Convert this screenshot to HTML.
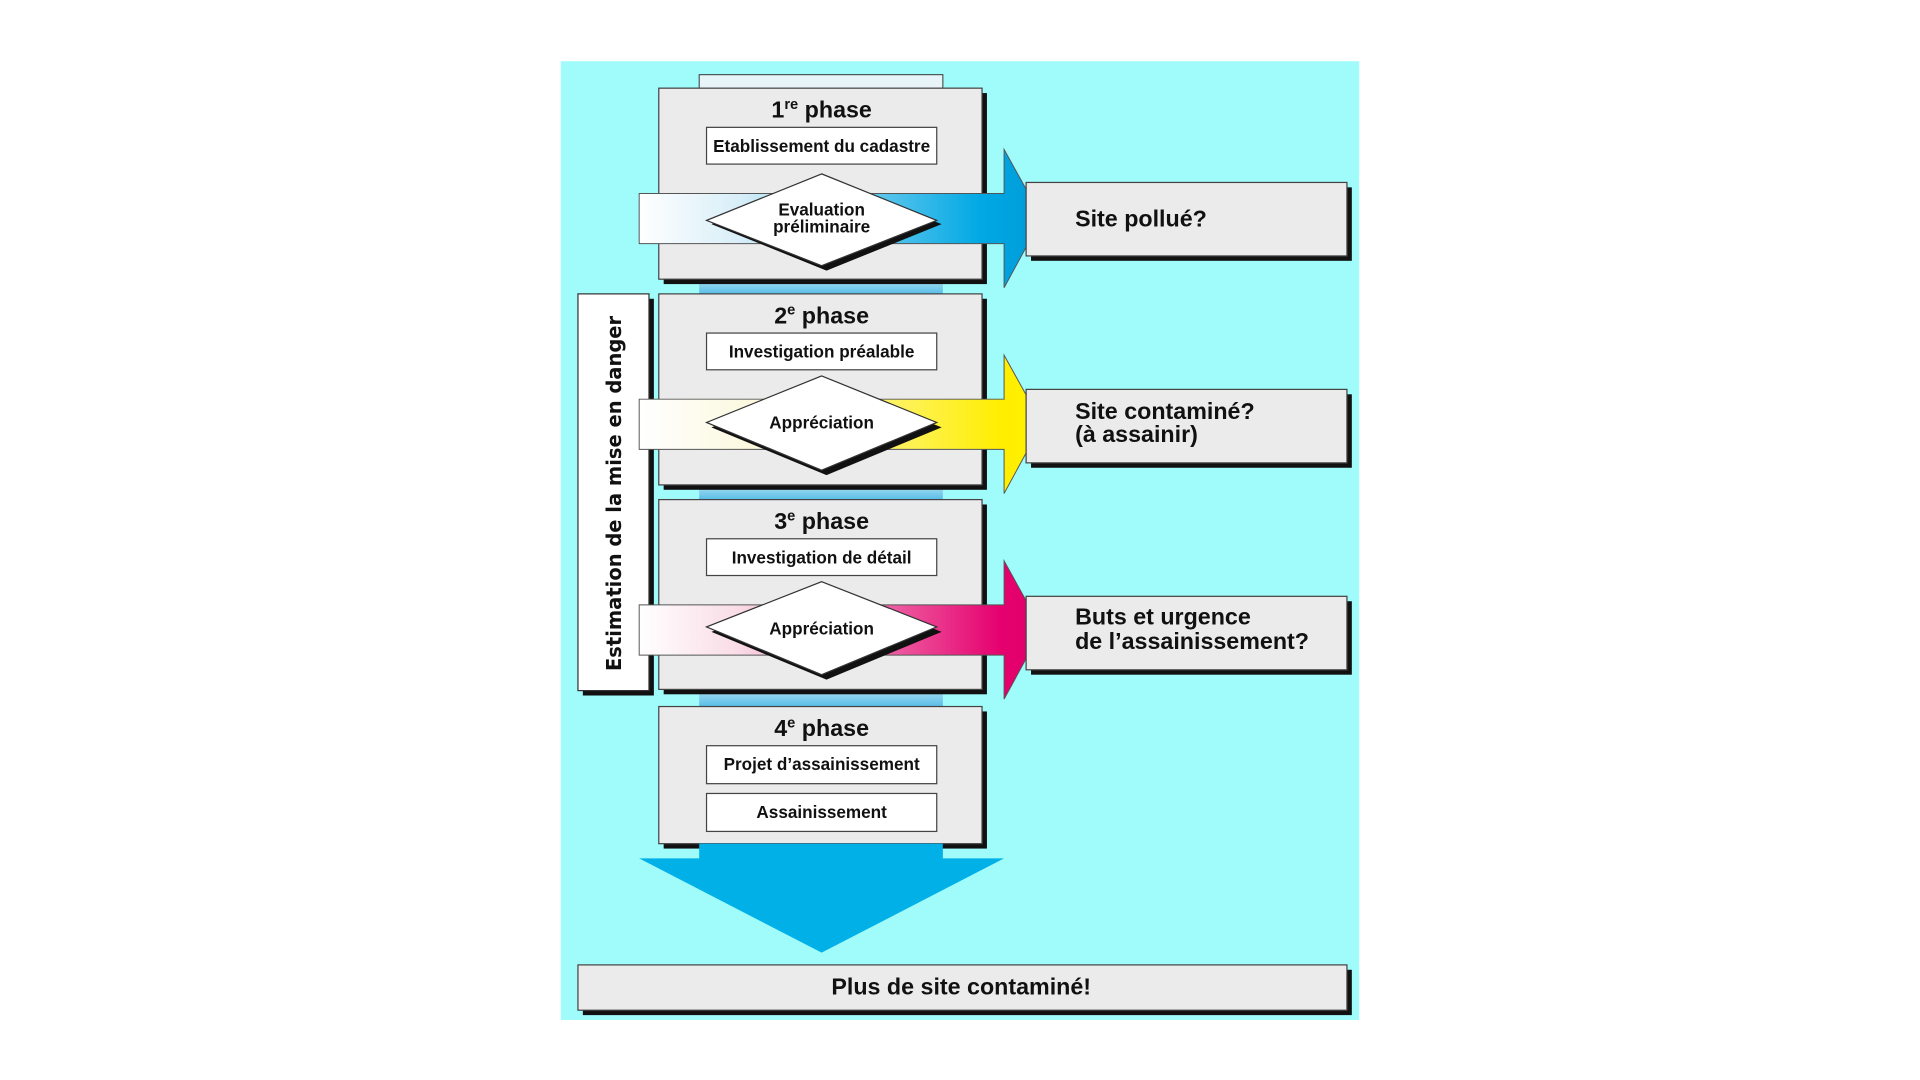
<!DOCTYPE html>
<html><head><meta charset="utf-8"><style>html,body{margin:0;padding:0;background:#fff;}svg{display:block}</style></head>
<body>
<svg width="1920" height="1080" viewBox="0 0 1568 882" xmlns="http://www.w3.org/2000/svg" font-family="'Liberation Sans Narrow','Liberation Sans',sans-serif" font-weight="bold">
<defs>
<linearGradient id="gb" x1="0" x2="1"><stop offset="0" stop-color="#ffffff"/><stop offset="0.25" stop-color="#d8eef8"/><stop offset="0.85" stop-color="#00a8e4"/><stop offset="1" stop-color="#009bd8"/></linearGradient>
<linearGradient id="gy" x1="0" x2="1"><stop offset="0" stop-color="#ffffff"/><stop offset="0.3" stop-color="#fbf8dc"/><stop offset="0.9" stop-color="#ffee00"/><stop offset="1" stop-color="#fff000"/></linearGradient>
<linearGradient id="gm" x1="0" x2="1"><stop offset="0" stop-color="#ffffff"/><stop offset="0.25" stop-color="#f9dbe6"/><stop offset="0.9" stop-color="#e5006e"/><stop offset="1" stop-color="#e0006a"/></linearGradient>
<linearGradient id="gc" x1="0" x2="0" y1="0" y2="1"><stop offset="0" stop-color="#b8e4f4"/><stop offset="1" stop-color="#4cb8e6"/></linearGradient>
</defs>
<rect width="1568" height="882" fill="#fff"/>
<rect x="458" y="50" width="652" height="783" fill="#a0fbfb"/>
<rect x="571" y="61" width="199" height="12" fill="#e8f4f8" stroke="#333" stroke-width="0.8"/>
<rect x="571" y="226" width="199" height="16" fill="url(#gc)"/>
<rect x="571" y="394" width="199" height="16" fill="url(#gc)"/>
<rect x="571" y="561" width="199" height="18" fill="url(#gc)"/>
<rect x="476" y="244" width="58" height="324" fill="#111"/>
<rect x="472" y="240" width="58" height="324" fill="#fff" stroke="#333" stroke-width="1"/>
<text transform="translate(507,403) rotate(-90)" text-anchor="middle" font-family="'DejaVu Sans',sans-serif" font-size="17" textLength="290" lengthAdjust="spacingAndGlyphs" fill="#111">Estimation de la mise en danger</text>
<g fill="#111">
<rect x="542" y="76" width="264" height="156"/>
<rect x="542" y="244" width="264" height="156"/>
<rect x="542" y="412" width="264" height="155"/>
<rect x="542" y="581" width="264" height="112"/>
</g>
<g fill="#ebebeb" stroke="#444" stroke-width="1">
<rect x="538" y="72" width="264" height="156"/>
<rect x="538" y="240" width="264" height="156"/>
<rect x="538" y="408" width="264" height="155"/>
<rect x="538" y="577" width="264" height="112"/>
</g>
<g font-size="19" text-anchor="middle" fill="#111">
<text x="671" y="96">1<tspan font-size="12" dy="-7">re</tspan><tspan dy="7"> phase</tspan></text>
<text x="671" y="264">2<tspan font-size="12" dy="-7">e</tspan><tspan dy="7"> phase</tspan></text>
<text x="671" y="432">3<tspan font-size="12" dy="-7">e</tspan><tspan dy="7"> phase</tspan></text>
<text x="671" y="601">4<tspan font-size="12" dy="-7">e</tspan><tspan dy="7"> phase</tspan></text>
</g>
<g fill="#fff" stroke="#444" stroke-width="1">
<rect x="577" y="104" width="188" height="30"/>
<rect x="577" y="272" width="188" height="30"/>
<rect x="577" y="440" width="188" height="30"/>
<rect x="577" y="609" width="188" height="31"/>
<rect x="577" y="648" width="188" height="31"/>
</g>
<g font-size="14" text-anchor="middle" fill="#111">
<text x="671" y="124">Etablissement du cadastre</text>
<text x="671" y="292">Investigation préalable</text>
<text x="671" y="460">Investigation de détail</text>
<text x="671" y="629">Projet d’assainissement</text>
<text x="671" y="668">Assainissement</text>
</g>
<path d="M522,158 H820 V122 L851,178 L820,235 V199 H522 Z" fill="url(#gb)" stroke="#555" stroke-width="0.8"/>
<path d="M522,326 H820 V290 L851,346 L820,403 V367 H522 Z" fill="url(#gy)" stroke="#555" stroke-width="0.8"/>
<path d="M522,494 H820 V458 L851,514 L820,571 V535 H522 Z" fill="url(#gm)" stroke="#555" stroke-width="0.8"/>
<g fill="#111">
<path d="M675,146 L769,183 L675,221 L581,183 Z"/>
<path d="M675,311 L769,349 L675,388 L581,349 Z"/>
<path d="M675,479 L769,516 L675,555 L581,516 Z"/>
</g>
<g fill="#fff" stroke="#333" stroke-width="1">
<path d="M671,142 L765,180 L671,217 L577,180 Z"/>
<path d="M671,307 L765,345 L671,384 L577,345 Z"/>
<path d="M671,475 L765,512 L671,551 L577,512 Z"/>
</g>
<g font-size="14" text-anchor="middle" fill="#111">
<text x="671" y="176">Evaluation</text>
<text x="671" y="190">préliminaire</text>
<text x="671" y="350">Appréciation</text>
<text x="671" y="518">Appréciation</text>
</g>
<g fill="#111">
<rect x="842" y="153" width="262" height="60"/>
<rect x="842" y="322" width="262" height="60"/>
<rect x="842" y="491" width="262" height="60"/>
<rect x="476" y="792" width="628" height="37"/>
</g>
<g fill="#ebebeb" stroke="#444" stroke-width="1">
<rect x="838" y="149" width="262" height="60"/>
<rect x="838" y="318" width="262" height="60"/>
<rect x="838" y="487" width="262" height="60"/>
<rect x="472" y="788" width="628" height="37"/>
</g>
<g font-size="19" fill="#111">
<text x="878" y="185">Site pollué?</text>
<text x="878" y="342">Site contaminé?</text>
<text x="878" y="361">(à assainir)</text>
<text x="878" y="510">Buts et urgence</text>
<text x="878" y="530">de l’assainissement?</text>
<text x="785" y="812" text-anchor="middle">Plus de site contaminé!</text>
</g>
<path d="M571,689 H770 V701 H820 L671,778 L522,701 H571 Z" fill="#00b0e6"/>
</svg>
</body></html>
